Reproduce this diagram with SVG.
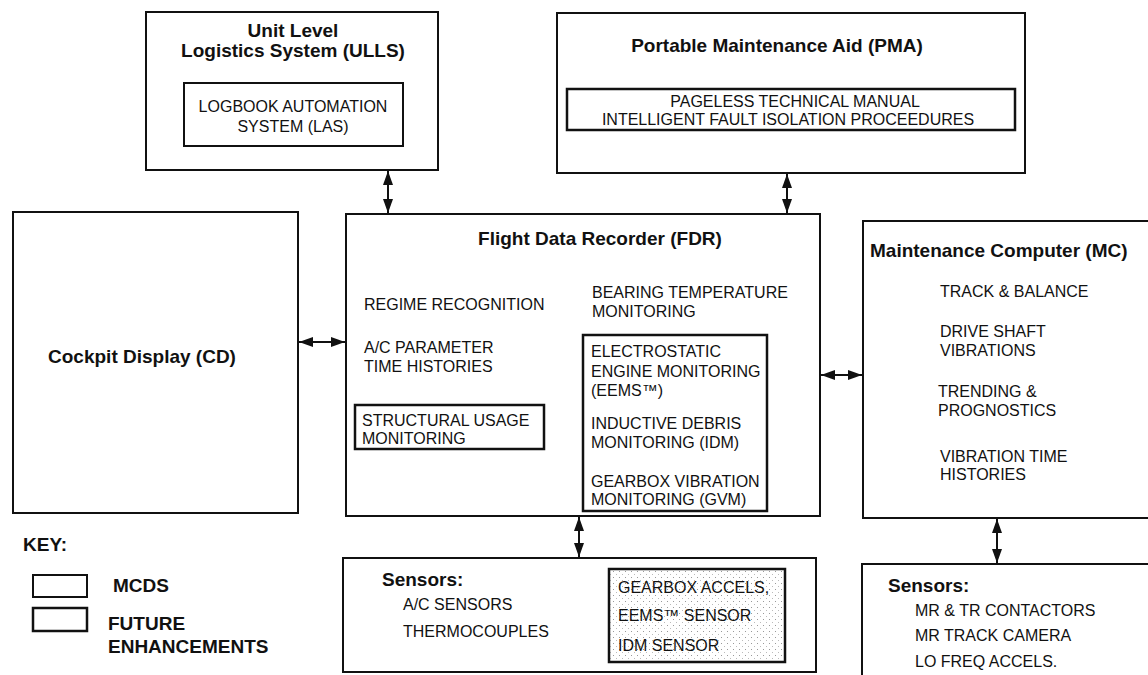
<svg xmlns="http://www.w3.org/2000/svg" width="1148" height="675" viewBox="0 0 1148 675">
<style>
.box{fill:none;stroke:#111;stroke-width:2}
.inner{fill:none;stroke:#111;stroke-width:2.5}
.t{font-family:"Liberation Sans",Arial,sans-serif;font-size:16px;fill:#111}
.b{font-family:"Liberation Sans",Arial,sans-serif;font-size:19px;font-weight:bold;fill:#111}
.m{text-anchor:middle}
.conn{stroke:#111;stroke-width:2;fill:none;marker-start:url(#ah);marker-end:url(#ah)}
</style>
<defs>
<marker id="ah" viewBox="0 0 14 10" refX="14" refY="5" markerWidth="14" markerHeight="10" markerUnits="userSpaceOnUse" orient="auto-start-reverse">
<path d="M0,0 L14,5 L0,10 z" fill="#111"/>
</marker>
<pattern id="stip" width="6" height="6" patternUnits="userSpaceOnUse">
<rect x="1" y="1" width="1" height="1" fill="#999"/>
<rect x="4" y="4" width="1" height="1" fill="#bbb"/>
</pattern>
</defs>
<rect width="1148" height="675" fill="#fff"/>

<g id="ulls">
<rect class="box" x="146" y="12" width="292" height="158"/>
<text class="b m" x="293" y="37">Unit Level</text>
<text class="b m" x="293" y="57">Logistics System (ULLS)</text>
<rect class="box" x="184" y="83" width="219" height="63"/>
<text class="t m" x="293" y="112">LOGBOOK AUTOMATION</text>
<text class="t m" x="293" y="132">SYSTEM (LAS)</text>
</g>

<g id="pma">
<rect class="box" x="557" y="13" width="468" height="160"/>
<text class="b m" x="777" y="52">Portable Maintenance Aid (PMA)</text>
<rect class="inner" x="567" y="89" width="448" height="41"/>
<text class="t m" x="795" y="107">PAGELESS TECHNICAL MANUAL</text>
<text class="t m" x="788" y="125">INTELLIGENT FAULT ISOLATION PROCEEDURES</text>
</g>

<g id="cd">
<rect class="box" x="13" y="212" width="285" height="301"/>
<text class="b m" x="142" y="363">Cockpit Display (CD)</text>
</g>

<g id="fdr">
<rect class="box" x="346" y="214" width="474" height="302"/>
<text class="b m" x="600" y="245">Flight Data Recorder (FDR)</text>
<text class="t" x="364" y="310">REGIME RECOGNITION</text>
<text class="t" x="364" y="353">A/C PARAMETER</text>
<text class="t" x="364" y="372">TIME HISTORIES</text>
<rect class="inner" x="355" y="405" width="189" height="44"/>
<text class="t" x="362" y="426">STRUCTURAL USAGE</text>
<text class="t" x="362" y="444">MONITORING</text>
<text class="t" x="592" y="298">BEARING TEMPERATURE</text>
<text class="t" x="592" y="317">MONITORING</text>
<rect class="inner" x="583" y="335" width="184" height="176"/>
<text class="t" x="591" y="357">ELECTROSTATIC</text>
<text class="t" x="591" y="377">ENGINE MONITORING</text>
<text class="t" x="591" y="396">(EEMS™)</text>
<text class="t" x="591" y="429">INDUCTIVE DEBRIS</text>
<text class="t" x="591" y="448">MONITORING (IDM)</text>
<text class="t" x="591" y="487">GEARBOX VIBRATION</text>
<text class="t" x="591" y="505">MONITORING (GVM)</text>
</g>

<g id="mc">
<rect class="box" x="863" y="221" width="300" height="297"/>
<text class="b" x="870" y="257">Maintenance Computer (MC)</text>
<text class="t" x="940" y="297">TRACK &amp; BALANCE</text>
<text class="t" x="940" y="337">DRIVE SHAFT</text>
<text class="t" x="940" y="356">VIBRATIONS</text>
<text class="t" x="938" y="397">TRENDING &amp;</text>
<text class="t" x="938" y="416">PROGNOSTICS</text>
<text class="t" x="940" y="462">VIBRATION TIME</text>
<text class="t" x="940" y="480">HISTORIES</text>
</g>

<g id="sensors-fdr">
<rect class="box" x="343" y="558" width="473" height="114"/>
<text class="b" x="382" y="586">Sensors:</text>
<text class="t" x="403" y="610">A/C SENSORS</text>
<text class="t" x="403" y="637">THERMOCOUPLES</text>
<rect x="609" y="569" width="176" height="93" fill="url(#stip)" stroke="#111" stroke-width="2.5"/>
<text class="t" x="618" y="593">GEARBOX ACCELS,</text>
<text class="t" x="618" y="621">EEMS™ SENSOR</text>
<text class="t" x="618" y="651">IDM SENSOR</text>
</g>

<g id="sensors-mc">
<rect class="box" x="862" y="564" width="300" height="130"/>
<text class="b" x="888" y="592">Sensors:</text>
<text class="t" x="915" y="616">MR &amp; TR CONTACTORS</text>
<text class="t" x="915" y="641">MR TRACK CAMERA</text>
<text class="t" x="915" y="667">LO FREQ ACCELS.</text>
</g>

<g id="key">
<text class="b" x="23" y="551">KEY:</text>
<rect class="box" x="33" y="575" width="54" height="22"/>
<text class="b" x="113" y="592">MCDS</text>
<rect class="inner" x="33" y="608" width="54" height="23"/>
<text class="b" x="108" y="630">FUTURE</text>
<text class="b" x="108" y="653">ENHANCEMENTS</text>
</g>

<g id="connectors">
<line class="conn" x1="388" y1="171" x2="388" y2="213"/>
<line class="conn" x1="787" y1="174" x2="787" y2="213"/>
<line class="conn" x1="299" y1="342" x2="345" y2="342"/>
<line class="conn" x1="821" y1="375" x2="862" y2="375"/>
<line class="conn" x1="579" y1="517" x2="579" y2="557"/>
<line class="conn" x1="997" y1="519" x2="997" y2="563"/>
</g>
</svg>
